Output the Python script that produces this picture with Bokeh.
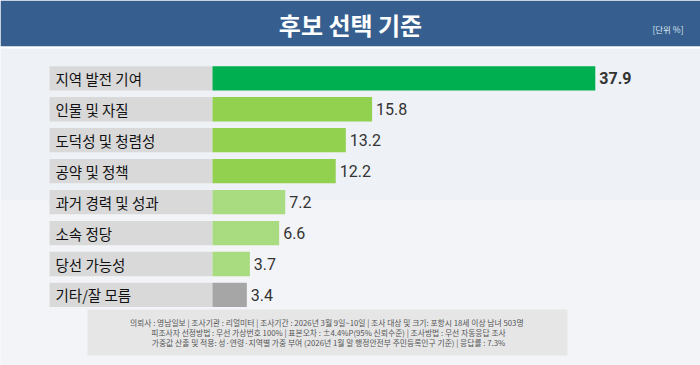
from bokeh.plotting import figure
from bokeh.models import Range1d, ColumnDataSource
from bokeh.core.properties import value
from bokeh.embed import file_html
from bokeh.resources import INLINE

# ---- data ----
title = "후보 선택 기준"
unit = "[단위 %]"
categories = ["지역 발전 기여", "인물 및 자질", "도덕성 및 청렴성", "공약 및 정책",
              "과거 경력 및 성과", "소속 정당", "당선 가능성", "기타/잘 모름"]
values = [37.9, 15.8, 13.2, 12.2, 7.2, 6.6, 3.7, 3.4]
bar_colors = ["#00B050", "#92D050", "#92D050", "#92D050",
              "#A9DB80", "#A9DB80", "#A9DB80", "#A6A6A6"]
footer_lines = [
    "의뢰사 : 영남일보 | 조사기관 : 리얼미터  |  조사기간 : 2026년 3월 9일~10일 | 조사 대상 및 크기: 포항시 18세 이상 남녀 503명",
    "피조사자 선정방법 : 무선 가상번호 100% | 표본오차 : ±4.4%P(95% 신뢰수준) | 조사방법 : 무선 자동응답 조사",
    "가중값 산출 및 적용: 성·연령·지역별 가중 부여 (2026년 1월 말 행정안전부 주민등록인구 기준) | 응답률 : 7.3%",
]

# ---- layout (reference pixel -> data coordinates) ----
W, H = 700, 365
OFF = 0
X0, XS = 212.0, 10.1      # x of value 0, px per percent
Y0, YS = 77.8, 30.95      # y of first row centre, px per row

def px2x(px):
    return (px - X0) / XS

def px2y(py):
    return (py - Y0) / YS

p = figure(width=W, height=H, output_backend="svg", toolbar_location=None,
           x_range=Range1d(px2x(OFF), px2x(OFF + W)),
           y_range=Range1d(px2y(OFF + H), px2y(OFF)),
           min_border=0, background_fill_color="#EEF1F5",
           border_fill_color="#EEF1F5", outline_line_color=None)
p.axis.visible = False
p.grid.visible = False

# subtle lower background
p.quad(left=px2x(0), right=px2x(700), top=px2y(200), bottom=px2y(365),
       fill_color="#F3F4F7", line_color=None)

# header
p.quad(left=px2x(0), right=px2x(700), top=px2y(0), bottom=px2y(46),
       fill_color="#365F8F", line_color=None)
p.quad(left=px2x(0), right=px2x(700), top=px2y(46), bottom=px2y(48),
       fill_color="#FFFFFF", line_color=None)
p.text(x=[px2x(350)], y=[px2y(24)], text=[title], text_align="center",
       text_baseline="middle", text_color="white", text_font_size="24px",
       text_font=value("Noto Sans CJK KR"), text_font_style="bold")
p.text(x=[px2x(683)], y=[px2y(28)], text=[unit], text_align="right",
       text_baseline="middle", text_color="#DDE6F0", text_font_size="8.5px",
       text_font=value("Noto Sans CJK KR"))

idx = list(range(len(categories)))
src = ColumnDataSource(dict(
    y=idx, cat=categories, val=values, color=bar_colors,
    lab=[f"{v:.1f}" for v in values],
    lx=[v + 4 / XS for v in values],
    style=["bold"] + ["normal"] * (len(values) - 1),
))

# label boxes
p.hbar(y="y", left=px2x(49), right=0, height=24.3 / YS, source=src,
       fill_color="#D9D9D9", line_color=None)
# bars
p.hbar(y="y", left=0, right="val", height=24.3 / YS, source=src,
       fill_color="color", line_color=None)

p.text(x=px2x(55), y="y", text="cat", source=src, text_baseline="middle",
       text_color="#111111", text_font_size="14.5px",
       text_font=value("Noto Sans CJK KR"))
p.text(x="lx", y="y", text="lab", source=src, text_baseline="middle",
       text_color="#333333", text_font_size="16px", text_font=value("Roboto"),
       text_font_style="style")

# footer
p.quad(left=px2x(87), right=px2x(567), top=px2y(309), bottom=px2y(355),
       fill_color="#E6E6E7", line_color=None)
p.text(x=[px2x(328)] * 3, y=[px2y(322), px2y(332), px2y(342)], text=footer_lines,
       text_align="center", text_baseline="middle", text_color="#555555",
       text_font_size="7.8px", text_font=value("Noto Sans CJK KR"))

open("out.html", "w").write(file_html(p, INLINE))
